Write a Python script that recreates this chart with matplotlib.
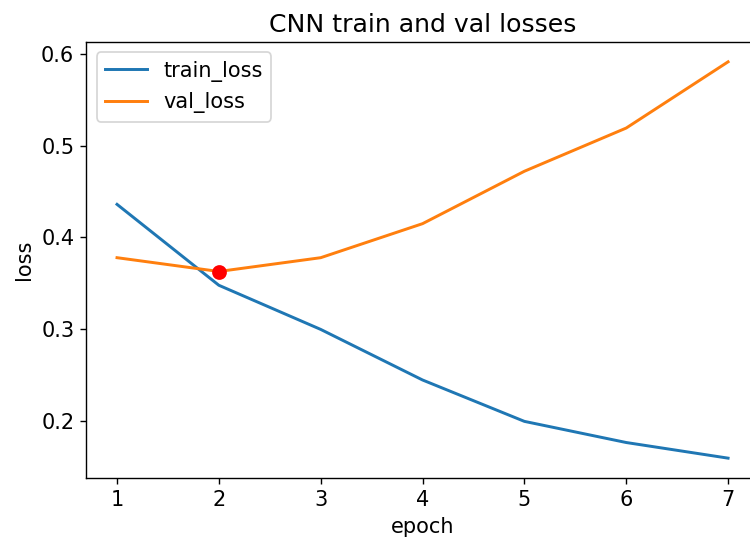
import matplotlib
matplotlib.use("Agg")
import matplotlib.pyplot as plt

epochs = [1, 2, 3, 4, 5, 6, 7]
train_loss = [0.436, 0.348, 0.300, 0.245, 0.200, 0.177, 0.160]
val_loss = [0.378, 0.363, 0.378, 0.415, 0.472, 0.519, 0.591]
best_epoch = 2
best_val = 0.362

plt.rcParams["font.size"] = 12

fig = plt.figure(figsize=(6, 4.376), dpi=125)
ax = fig.add_axes([0.1153, 0.1262, 0.8962, 0.7970])

ax.plot(epochs, train_loss, label="train_loss", linewidth=1.7)
ax.plot(epochs, val_loss, label="val_loss", linewidth=1.7)
ax.plot(best_epoch, best_val, "o", color="red", markersize=7.5)

ax.set_title("CNN train and val losses", fontsize=14.5)
ax.set_xlabel("epoch")
ax.set_ylabel("loss")
ax.set_yticks([0.2, 0.3, 0.4, 0.5, 0.6])
ax.legend(loc="upper left")

fig.savefig("out.png", dpi=125)
